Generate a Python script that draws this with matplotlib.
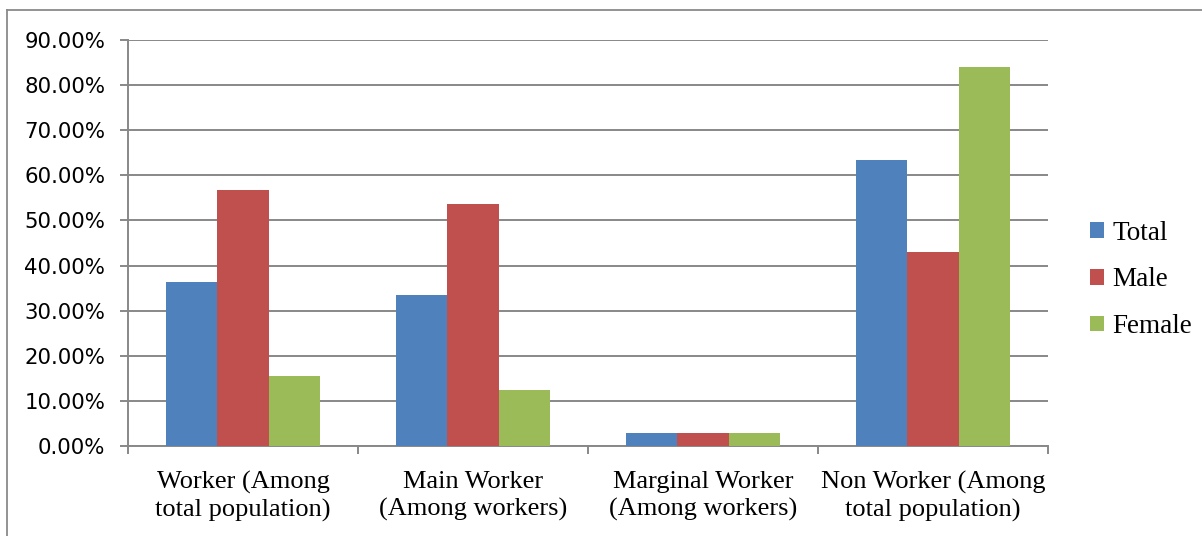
import matplotlib
matplotlib.use("Agg")
import matplotlib.pyplot as plt
from matplotlib.patches import Patch
from matplotlib.lines import Line2D
from matplotlib.ticker import FuncFormatter
import numpy as np

categories = [
    "Worker (Among\ntotal population)",
    "Main Worker\n(Among workers)",
    "Marginal Worker\n(Among workers)",
    "Non Worker (Among\ntotal population)",
]
series_names = ["Total", "Male", "Female"]
total = [36.4, 33.4, 2.8, 63.3]
male = [56.8, 53.7, 2.9, 42.9]
female = [15.6, 12.5, 2.8, 84.1]
colors = ["#4F81BD", "#C0504D", "#9BBB59"]
y_ticks = [0, 10, 20, 30, 40, 50, 60, 70, 80, 90]

grid_col = "#888888"
serif = ["Liberation Serif", "DejaVu Serif"]

fig = plt.figure(figsize=(12.02, 5.36), dpi=100)
ax = fig.add_axes([128 / 1202, 1 - 446 / 536, (1048 - 128) / 1202, (446 - 40) / 536])

x = np.arange(len(categories))
bw = 0.222
for i, (vals, col) in enumerate(zip([total, male, female], colors)):
    ax.bar(x + (i - 1) * bw, vals, width=bw, color=col, edgecolor="none", zorder=3)

ax.set_xlim(-0.5, len(categories) - 0.5)
ax.set_ylim(0, 90)
ax.set_yticks(y_ticks)
ax.yaxis.set_major_formatter(FuncFormatter(lambda v, p: f"{v:.2f}%"))
ax.grid(axis="y", color=grid_col, linewidth=1.4, zorder=0)

ax.set_xticks(np.arange(len(categories) + 1) - 0.5)
ax.set_xticklabels([])
ax.set_xticks(x, categories, minor=True)
ax.tick_params(axis="x", which="minor", length=0, pad=18)
ax.tick_params(axis="x", which="major", length=6, width=1.4, color=grid_col)
ax.tick_params(axis="y", length=6, width=1.4, color=grid_col, pad=10.5, labelsize=15.3)
for lbl in ax.get_xticklabels(minor=True):
    lbl.set_family(serif)
    lbl.set_fontsize(19)
    lbl.set_linespacing(1.28)
    lbl.set_verticalalignment("top")

for s in ["top", "right"]:
    ax.spines[s].set_visible(False)
for s in ["left", "bottom"]:
    ax.spines[s].set_color(grid_col)
    ax.spines[s].set_linewidth(1.4)

handles = [Patch(facecolor=c, edgecolor="none") for c in colors]
fig.legend(handles, series_names, loc="center left",
           bbox_to_anchor=(1090 / 1202, 1 - 280 / 536),
           frameon=False, borderpad=0, borderaxespad=0,
           handlelength=0.52, handleheight=0.52, handletextpad=0.3,
           labelspacing=0.8, prop={"family": serif, "size": 19.5})

# chart area border (left and top edges)
fig.add_artist(Line2D([7 / 1202, 7 / 1202], [0, 1 - 10 / 536], transform=fig.transFigure,
                      color="#8a8a8a", linewidth=1.3))
fig.add_artist(Line2D([7 / 1202, 1], [1 - 10 / 536, 1 - 10 / 536], transform=fig.transFigure,
                      color="#8a8a8a", linewidth=1.3))

fig.savefig("out.png", dpi=100)
